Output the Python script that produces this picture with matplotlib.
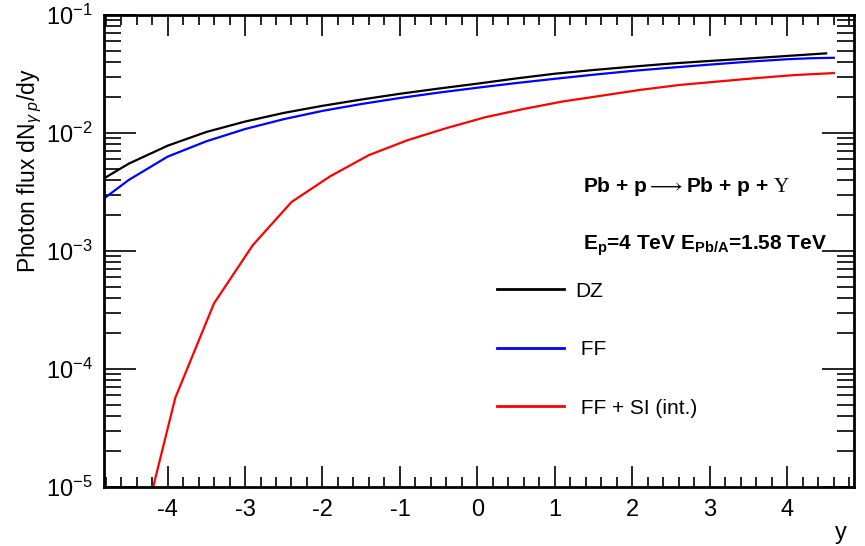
import matplotlib
matplotlib.use("Agg")
import matplotlib.pyplot as plt
from matplotlib.lines import Line2D
from matplotlib.ticker import LogLocator, MultipleLocator, LogFormatterSciNotation

plt.rcParams['font.family'] = ['Liberation Sans', 'DejaVu Sans']
plt.rcParams['mathtext.fontset'] = 'custom'
plt.rcParams['mathtext.rm'] = 'Liberation Sans'
plt.rcParams['mathtext.it'] = 'Liberation Sans:italic'
plt.rcParams['mathtext.bf'] = 'Liberation Sans:bold'
plt.rcParams['mathtext.sf'] = 'Liberation Serif'
plt.rcParams['axes.unicode_minus'] = False

# photon flux
y_dz = [-4.8, -4.5, -4.0, -3.5, -3.0, -2.5, -2.0, -1.5, -1.0, -0.5,
        0.0, 0.5, 1.0, 1.5, 2.0, 2.5, 3.0, 3.5, 4.0, 4.5]
flux_dz = [4.2e-3, 5.5e-3, 7.8e-3, 1.02e-2, 1.25e-2, 1.48e-2, 1.70e-2, 1.92e-2, 2.15e-2, 2.38e-2,
           2.62e-2, 2.90e-2, 3.18e-2, 3.42e-2, 3.65e-2, 3.88e-2, 4.08e-2, 4.28e-2, 4.50e-2, 4.73e-2]

y_ff = [-4.8, -4.5, -4.0, -3.5, -3.0, -2.5, -2.0, -1.5, -1.0, -0.5,
        0.0, 0.5, 1.0, 1.5, 2.0, 2.5, 3.0, 3.5, 4.0, 4.3, 4.6]
flux_ff = [2.85e-3, 4.0e-3, 6.3e-3, 8.5e-3, 1.08e-2, 1.31e-2, 1.54e-2, 1.76e-2, 1.98e-2, 2.20e-2,
           2.42e-2, 2.65e-2, 2.88e-2, 3.12e-2, 3.36e-2, 3.58e-2, 3.80e-2, 4.02e-2, 4.22e-2, 4.30e-2, 4.34e-2]

y_si = [-4.4, -3.9, -3.4, -2.9, -2.4, -1.9, -1.4, -0.9, -0.4, 0.1,
        0.6, 1.1, 1.6, 2.1, 2.6, 3.1, 3.6, 4.1, 4.6]
flux_si = [2.7e-6, 5.7e-5, 3.6e-4, 1.12e-3, 2.6e-3, 4.3e-3, 6.5e-3, 8.7e-3, 1.1e-2, 1.36e-2,
           1.6e-2, 1.85e-2, 2.07e-2, 2.32e-2, 2.55e-2, 2.73e-2, 2.92e-2, 3.1e-2, 3.22e-2]

labels = ['DZ', ' FF', ' FF + SI (int.)']

fig = plt.figure(figsize=(8.65, 5.46), dpi=100)
ax = fig.add_axes([104/865, 1 - 487/546, 750/865, 472/546])

ax.plot(y_dz, flux_dz, color='black', lw=1.6)
ax.plot(y_ff, flux_ff, color='blue', lw=1.6)
ax.plot(y_si, flux_si, color='red', lw=1.6)

ax.set_yscale('log')
ax.set_xlim(-4.82, 4.86)
ax.set_ylim(1e-5, 1e-1)

ax.xaxis.set_major_locator(MultipleLocator(1))
ax.xaxis.set_minor_locator(MultipleLocator(0.2))
ax.yaxis.set_major_locator(LogLocator(base=10, numticks=10))
ax.yaxis.set_minor_locator(LogLocator(base=10, subs=range(2, 10), numticks=10))
ax.yaxis.set_major_formatter(LogFormatterSciNotation())

for s in ax.spines.values():
    s.set_linewidth(2)
ax.tick_params(which='both', direction='in', top=True, right=True, width=1.2, labelsize=17)
ax.tick_params(axis='x', which='major', length=15, pad=9)
ax.tick_params(axis='x', which='minor', length=7)
ax.tick_params(axis='y', which='major', length=23, pad=8)
ax.tick_params(axis='y', which='minor', length=12)

ax.set_ylabel(r'Photon flux dN$_{\gamma\ p}$/dy', fontsize=16.5)
ax.yaxis.set_label_coords(-0.08, 0.67)
ax.set_xlabel('y', fontsize=17, loc='right')
ax.xaxis.set_label_coords(0.99, -0.075)

ax.text(0.639, 0.625, r'Pb + p$\longrightarrow$Pb + p + $\mathsf{\Upsilon}$', transform=ax.transAxes,
        fontsize=15, fontweight='bold')
ax.text(0.639, 0.502, r'E$_\mathbf{p}$=4 TeV E$_\mathbf{Pb/A}$=1.58 TeV', transform=ax.transAxes,
        fontsize=15, fontweight='bold')

handles = [Line2D([], [], color=c, lw=2) for c in ['black', 'blue', 'red']]
ax.legend(handles, labels, loc='upper left', bbox_to_anchor=(0.499, 0.475), frameon=False,
          fontsize=15, handlelength=3.2, handletextpad=0.55, labelspacing=1.9)

fig.savefig('out.png', dpi=100)
